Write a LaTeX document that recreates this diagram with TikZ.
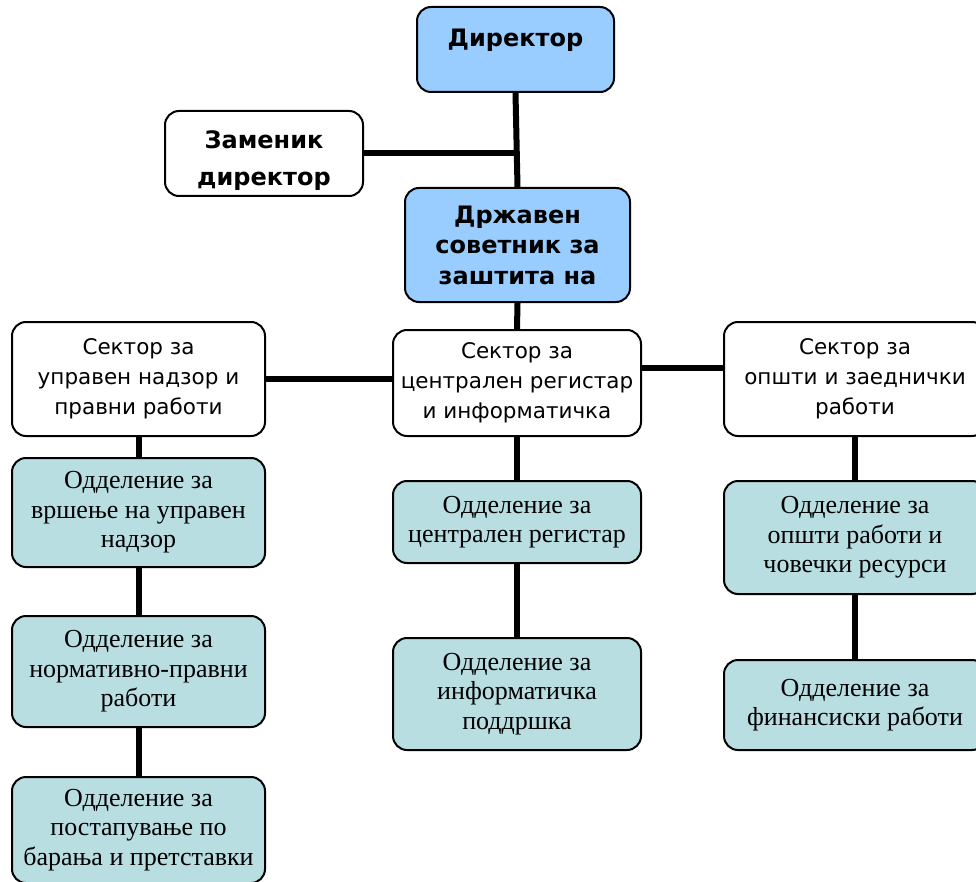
\documentclass[tikz,border=0pt]{standalone}
\usepackage{fontspec}
\setmainfont{Liberation Serif}
\newfontfamily\headfont{DejaVu Sans}
\definecolor{headblue}{RGB}{153,204,255}
\definecolor{deptteal}{RGB}{184,222,226}
\begin{document}
\begin{tikzpicture}[x=1pt,y=-1pt,
  box/.style={draw=black, line width=2pt, rounded corners=14pt, align=center, inner sep=0pt},
  headtext/.style={align=center, font=\headfont\bfseries\fontsize{24}{30.5}\selectfont},
  headbox/.style={box, fill=headblue, headtext},
  sectorbox/.style={box, fill=white, font=\headfont\fontsize{21.5}{30}\selectfont},
  deptbox/.style={box, fill=deptteal, font=\fontsize{26}{29.5}\selectfont},
  link/.style={line width=6pt}]
\useasboundingbox (0,0) rectangle (976,882);
% top
\node [headbox, minimum width=197, minimum height=85] (dir) at (515.5,49.5) {};
\node [headtext] (dirtext) at (515.5,40) {Директор};
\node [headbox, fill=white, minimum width=198, minimum height=85] (zam) at (264,153.5) {};
\node [headtext, font=\headfont\bfseries\fontsize{24}{37}\selectfont] (zamtext) at (264,161) {Заменик\\директор};
\node [headbox, minimum width=225, minimum height=114] (drz) at (517.5,245) {Државен\\советник за\\заштита на};
% sectors
\node [sectorbox, minimum width=253, minimum height=114] (secL) at (138.5,379) {Сектор за\\управен надзор и\\правни работи};
\node [sectorbox, minimum width=248, minimum height=106] (secC) at (517,383) {Сектор за\\централен регистар\\и информатичка};
\node [sectorbox, minimum width=262, minimum height=114] (secR) at (855,379) {Сектор за\\општи и заеднички\\работи};
% departments
\node [deptbox, minimum width=253, minimum height=109] (dL1) at (138.5,512.5) {Одделение за\\вршење на управен\\надзор};
\node [deptbox, minimum width=253, minimum height=111] (dL2) at (138.5,671.5) {Одделение за\\нормативно-правни\\работи};
\node [deptbox, minimum width=253, minimum height=106] (dL3) at (138.5,830) {Одделение за\\постапување по\\барања и претставки};
\node [deptbox, minimum width=248, minimum height=82] (dC1) at (517,522) {Одделение за\\централен регистар};
\node [deptbox, minimum width=248, minimum height=112] (dC2) at (517,694) {Одделение за\\информатичка\\поддршка};
\node [deptbox, minimum width=262, minimum height=113] (dR1) at (855,537.5) {Одделение за\\општи работи и\\човечки ресурси};
\node [deptbox, minimum width=262, minimum height=90] (dR2) at (855,705) {Одделение за\\финансиски работи};
% links
\draw [link] (dir.south) -- (drz.north);
\draw [link] (zam.east) -- (zam.east -| dir.south);
\draw [link] (drz.south) -- (secC.north);
\draw [link] (secL.east) -- (secL.east -| secC.west);
\draw [link] ([yshift=11pt]secR.west) -- ([yshift=11pt]secR.west -| secC.east);
\draw [link] (secL.south) -- (dL1.north);
\draw [link] (dL1.south) -- (dL2.north);
\draw [link] (dL2.south) -- (dL3.north);
\draw [link] (secC.south) -- (dC1.north);
\draw [link] (dC1.south) -- (dC2.north);
\draw [link] (secR.south) -- (dR1.north);
\draw [link] (dR1.south) -- (dR2.north);
\end{tikzpicture}
\end{document}
